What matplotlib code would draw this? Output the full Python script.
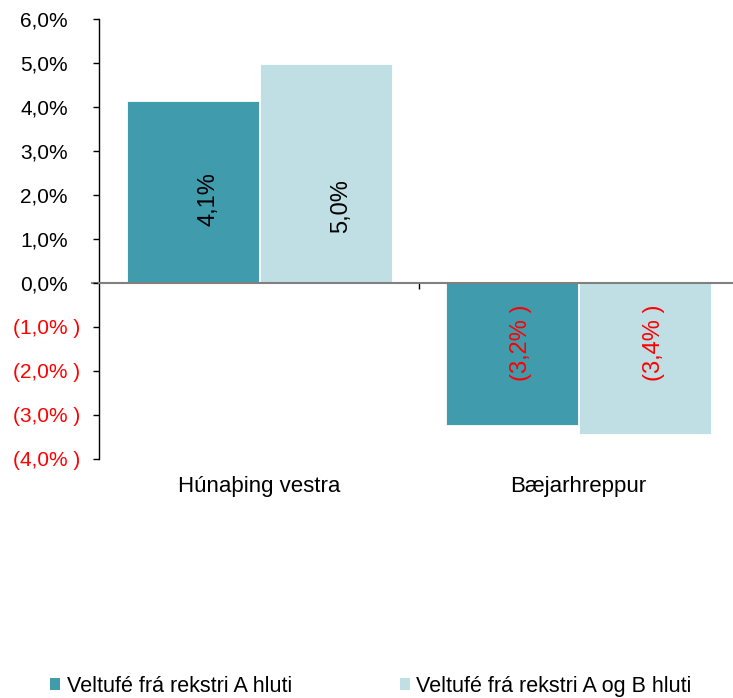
import matplotlib.pyplot as plt
from matplotlib.patches import Patch
from matplotlib.transforms import offset_copy, blended_transform_factory

plt.rcParams['font.family'] = ['Liberation Sans', 'DejaVu Sans']

categories = ["Húnaþing vestra", "Bæjarhreppur"]
series_names = ["Veltufé frá rekstri A hluti", "Veltufé frá rekstri A og B hluti"]
values_a = [4.14, -3.23]
values_ab = [4.98, -3.43]
y_ticks = [-4, -3, -2, -1, 0, 1, 2, 3, 4, 5, 6]
colors = ["#409bad", "#bfdfe4"]

# where the data labels sit (the original has them not at bar middles)
label_y_a = [1.90, -1.36]
label_y_ab = [1.75, -1.36]


def fmt_pct(v):
    s = f"{abs(v):.1f}".replace(".", ",") + "%"
    return f"({s} )" if v < -1e-9 else s


fig = plt.figure(figsize=(7.33, 6.98), dpi=100)
ax = fig.add_axes([0.135, 0.3424, 0.865, 0.6304])

width = 0.4125
x = list(range(len(categories)))
for i, (vals, ly, col) in enumerate(zip([values_a, values_ab], [label_y_a, label_y_ab], colors)):
    pos = [xi - width / 2 + i * (width + 0.003) for xi in x]
    ax.bar(pos, vals, width=width, color=col, edgecolor="white", linewidth=0.6, zorder=2)
    for p, v, yy in zip(pos, vals, ly):
        shift = 11.5 if v >= 0 else 6.5
        tr = offset_copy(ax.transData, fig=fig, x=shift, y=0, units="points")
        ax.text(p, yy, fmt_pct(round(v, 1)), rotation=90, ha="center", va="center",
                fontsize=17, color="black" if v >= 0 else "red", zorder=3, transform=tr)

ax.set_ylim(-4, 6)
ax.set_xlim(-0.5, 1.484)
ax.set_yticks(y_ticks)
ax.set_yticklabels([])
ax.tick_params(axis="y", length=4.3, width=1, direction="out")

# y tick labels by hand: positive ones keep room for the missing ")"
ytr = blended_transform_factory(ax.transAxes, ax.transData)
for v in y_ticks:
    dx = -13.7 if v < 0 else -22.3
    tr = offset_copy(ytr, fig=fig, x=dx, y=-1.2, units="points")
    ax.text(0, v, fmt_pct(v), transform=tr, ha="right", va="center", fontsize=15,
            color="red" if v < 0 else "black")

ax.spines["top"].set_visible(False)
ax.spines["right"].set_visible(False)
ax.spines["bottom"].set_position(("data", 0))
ax.spines["bottom"].set_color("#808080")
ax.spines["bottom"].set_linewidth(1.5)
ax.spines["left"].set_linewidth(1)
# zero line pokes a little past the y axis, like the original
ax.plot([-0.523, -0.5], [0, 0], color="#808080", lw=1.5, clip_on=False, zorder=1)

ax.set_xticks([0.5])
ax.set_xticklabels([])
ax.tick_params(axis="x", length=4.3, width=1, direction="out", color="black")

for xi, name in zip(x, categories):
    ax.text(xi, -0.062, name, transform=ax.get_xaxis_transform(), ha="center", va="center",
            fontsize=16)

handles = [Patch(facecolor=c, edgecolor="none") for c in colors]
fig.legend(handles, series_names, loc="center", bbox_to_anchor=(0.506, 0.017), ncol=2,
           frameon=False, fontsize=15.5, handlelength=0.48, handleheight=0.48,
           handletextpad=0.3, columnspacing=5.0, borderpad=0)

fig.savefig("out.png", dpi=100)
